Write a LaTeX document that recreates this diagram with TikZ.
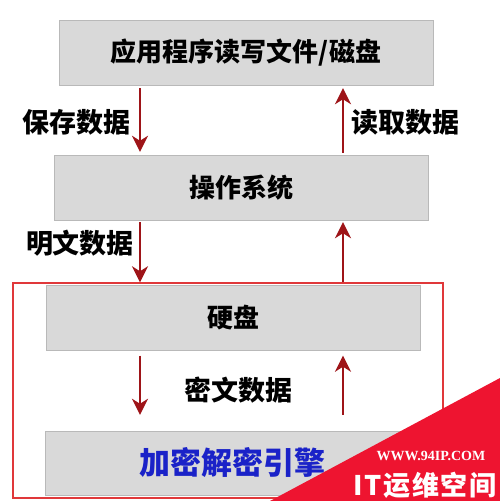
\documentclass[tikz,border=0pt]{standalone}
\usepackage{fontspec}
\setmainfont{Noto Sans CJK SC}
\usetikzlibrary{arrows.meta, positioning}

\definecolor{flowred}{HTML}{9E1418}
\definecolor{framered}{HTML}{E0383A}
\definecolor{boxgray}{HTML}{D9D9D9}
\definecolor{engineblue}{HTML}{1A22C8}
\definecolor{markred}{HTML}{EE1430}

\tikzset{
  layer/.style={draw=gray!55, fill=boxgray, minimum width=374pt, minimum height=65pt,
    inner sep=0pt, font=\bfseries\fontsize{26}{26}\selectfont},
  flow/.style={draw=flowred, line width=2.8pt, -{Stealth[length=16pt,width=16pt,inset=5pt]}},
  tag/.style={font=\bfseries\fontsize{27}{27}\selectfont, inner sep=0pt}
}

\begin{document}
\begin{tikzpicture}[x=1pt, y=-1pt]
    \useasboundingbox[fill=white] (0,0) rectangle (500,501);

    % Define the columns of the arrows
    \coordinate (xL) at (140,0);
    \coordinate (xR) at (343,0);

    % Draw the layers
    \node[layer] (app) at (246,52.5) {应用程序读写文件/磁盘};
    \node[layer] (os) at (241.5,187.5) {操作系统};
    \node[layer] (disk) at (233,318) {硬盘};
    \node[layer, minimum height=64pt, text=engineblue,
          font=\bfseries\fontsize{31}{31}\selectfont] (engine) at (232.5,463) {加密解密引擎};

    % Red frame round disk and engine
    \node[draw=framered, line width=2.2pt, minimum width=430pt, minimum height=215pt,
          inner sep=0pt] (frame) at (228,390.5) {};

    % Data going down
    \draw[flow, shorten <=3pt, shorten >=3pt] (app.south -| xL) -- (os.north -| xL);
    \draw[flow, shorten <=2pt, shorten >=3pt] (os.south -| xL) -- (disk.north -| xL);
    \draw[flow, shorten <=5pt, shorten >=16pt] (disk.south -| xL) -- (engine.north -| xL);

    % Data going up
    \draw[flow, shorten <=2pt, shorten >=3pt] (os.north -| xR) -- (app.south -| xR);
    \draw[flow, shorten <=3pt, shorten >=2pt] (disk.north -| xR) -- (os.south -| xR);
    \draw[flow, shorten <=16pt, shorten >=5pt] (engine.north -| xR) -- (disk.south -| xR);

    % Label the arrows
    \node[tag] (save) at (77,122) {保存数据};
    \node[tag] (read) at (405,122) {读取数据};
    \node[tag] (plain) at (80,243) {明文数据};
    \node[tag] (cipher) at (238,390) {密文数据};

    % Watermark in the corner
    \fill[markred] (270,501) -- (500,378) -- (500,501) -- cycle;
    \node[text=white, inner sep=0pt, font=\bfseries\fontspec{Liberation Serif}\fontsize{14}{14}\selectfont]
      (site) at (431,456) {WWW.94IP.COM};
    \node[text=white, inner sep=0pt,
          font=\bfseries\fontsize{27}{27}\selectfont\addfontfeature{LetterSpace=6}]
      (brand) at (425,485) {IT运维空间};
\end{tikzpicture}
\end{document}
